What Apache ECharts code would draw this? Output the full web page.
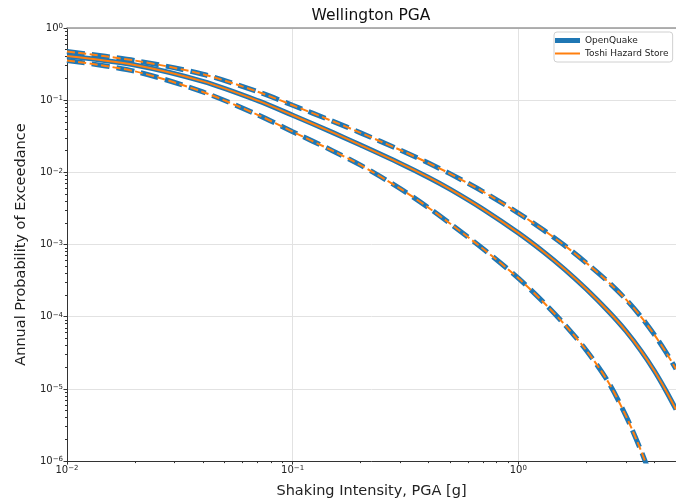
<!DOCTYPE html>
<html lang="en">
<head>
<meta charset="UTF-8">
<title>Wellington PGA</title>
<script src="https://cdn.jsdelivr.net/npm/echarts@6/dist/echarts.min.js"></script>
<style>
    html, body { margin: 0; padding: 0; background: #fff; }
    #chart { width: 676px; height: 504px; }
</style>
</head>
<body>
<div id="chart"></div>

<script>
    // shaking intensity levels (g) and annual probability of exceedance per curve
    const pga = [0.01, 0.02, 0.04, 0.07, 0.1, 0.15, 0.2, 0.3, 0.4, 0.5, 0.7, 1.0, 1.3, 1.6, 2.0, 2.5, 3.0, 3.5, 4.0, 4.5, 5.0];
    const meanPoe = [0.41, 0.307, 0.182, 0.0986, 0.0619, 0.0358, 0.0239, 0.0133, 0.00851, 0.00582, 0.00308, 0.00145, 0.000783, 0.000457, 0.000242, 0.00012, 6.34e-5, 3.37e-5, 1.8e-5, 9.6e-6, 5.2e-6];
    const upperPoe = [0.473, 0.354, 0.229, 0.131, 0.0851, 0.0513, 0.0353, 0.0204, 0.01345, 0.00953, 0.00538, 0.00273, 0.00157, 0.000977, 0.000558, 0.000305, 0.000174, 9.98e-5, 5.69e-5, 3.27e-5, 1.89e-5];
    const lowerPoe = [0.355, 0.251, 0.13, 0.0627, 0.0366, 0.02, 0.0126, 0.00594, 0.00324, 0.00194, 0.000867, 0.000343, 0.000156, 7.87e-5, 3.44e-5, 1.26e-5, 4.23e-6, 1.39e-6, 4.66e-7, null, null];

    const xMajor = [0.01, 0.1, 1];
    const yMajor = [1e-6, 1e-5, 1e-4, 1e-3, 1e-2, 1e-1, 1];

    const BLUE = '#1f77b4';
    const ORANGE = '#ff7f0e';
    const FONT = 'DejaVu Sans';
    const TEXT = '#222';

    // minor log ticks 2..9 in each decade
    function minorTicks(lo, hi, max) {
        const out = [];
        for (let e = lo; e <= hi; e++) {
            for (let m = 2; m <= 9; m++) {
                const v = m * Math.pow(10, e);
                if (v <= max) out.push(+v.toPrecision(3));
            }
        }
        return out;
    }
    const xMinor = minorTicks(-2, 0, 5);
    const yMinor = minorTicks(-6, -1, 1);

    function powLabel(v) {
        const e = Math.round(Math.log10(v));
        const exp = e < 0 ? '\u2212' + (-e) : String(e);
        return '{b|10}{s|' + exp + '}';
    }
    const rich = {
        b: { fontFamily: FONT, fontSize: 10, color: TEXT, lineHeight: 10, padding: [4, 0, 4, 0] },
        s: { fontFamily: FONT, fontSize: 7, color: TEXT, lineHeight: 9, verticalAlign: 'top' }
    };

    function pairs(ys) {
        return pga.map((x, i) => [x, ys[i]]);
    }

    function curve(name, ys, color, width, dash) {
        return {
            name: name,
            type: 'line',
            data: pairs(ys),
            symbol: 'none',
            smooth: 0.3,
            clip: true,
            lineStyle: { color: color, width: width, type: dash || 'solid' },
            itemStyle: { color: color },
            emphasis: { disabled: true }
        };
    }

    const chart = echarts.init(document.getElementById('chart'), null, { renderer: 'canvas' });

    const option = {
        animation: false,
        backgroundColor: '#fff',
        title: {
            text: 'Wellington PGA',
            left: 371,
            top: 8,
            textAlign: 'center',
            padding: 0,
            textStyle: { fontFamily: FONT, fontSize: 15.5, fontWeight: 'normal', color: '#111' }
        },
        legend: {
            left: 554,
            top: 32,
            orient: 'vertical',
            padding: [4, 4, 4, 1],
            itemGap: 4,
            itemWidth: 25,
            itemHeight: 10,
            borderColor: '#d0d0d0',
            borderWidth: 1,
            borderRadius: 3,
            itemStyle: { borderWidth: 0 },
            textStyle: { fontFamily: FONT, fontSize: 9, color: TEXT },
            data: [
                { name: 'OpenQuake', icon: 'path://M0,0H25V5H0Z', itemStyle: { color: BLUE, borderWidth: 0 } },
                { name: 'Toshi Hazard Store', icon: 'path://M0,0H25V2H0Z', itemStyle: { color: ORANGE, borderWidth: 0 } }
            ]
        },
        grid: { left: 67, right: 0, top: 28, bottom: 42 },
        xAxis: [
            {
                type: 'log',
                logBase: 10,
                min: 0.01,
                max: 5,
                position: 'bottom',
                name: 'Shaking Intensity, PGA [g]',
                nameLocation: 'middle',
                nameGap: 20,
                nameTextStyle: { fontFamily: FONT, fontSize: 14.5, color: TEXT },
                axisLine: { lineStyle: { color: '#333', width: 1 } },
                axisTick: { customValues: xMajor, length: 3.5, lineStyle: { color: '#333' } },
                axisLabel: { customValues: xMajor, margin: 4, formatter: powLabel, rich: rich },
                splitLine: { show: true, lineStyle: { color: '#e2e2e2', width: 1 } }
            },
            {
                type: 'log',
                logBase: 10,
                min: 0.01,
                max: 5,
                position: 'bottom',
                axisLine: { show: false },
                axisTick: { customValues: xMinor, length: 2, lineStyle: { color: '#333' } },
                axisLabel: { show: false },
                splitLine: { show: false }
            },
            {
                type: 'log',
                logBase: 10,
                min: 0.01,
                max: 5,
                position: 'top',
                axisLine: { lineStyle: { color: '#999', width: 1.5 } },
                axisTick: { show: false },
                axisLabel: { show: false },
                splitLine: { show: false }
            }
        ],
        yAxis: [
            {
                type: 'log',
                logBase: 10,
                min: 1e-6,
                max: 1,
                position: 'left',
                name: 'Annual Probability of Exceedance',
                nameLocation: 'middle',
                nameGap: 32,
                nameTextStyle: { fontFamily: FONT, fontSize: 14.5, color: TEXT },
                axisLine: { show: true, lineStyle: { color: '#333', width: 1 } },
                axisTick: { show: true, customValues: yMajor, length: 3.5, lineStyle: { color: '#333' } },
                axisLabel: { customValues: yMajor, margin: 4, formatter: powLabel, rich: rich },
                splitLine: { show: true, lineStyle: { color: '#e2e2e2', width: 1 } }
            },
            {
                type: 'log',
                logBase: 10,
                min: 1e-6,
                max: 1,
                position: 'left',
                axisLine: { show: false },
                axisTick: { show: true, customValues: yMinor, length: 2, lineStyle: { color: '#333' } },
                axisLabel: { show: false },
                splitLine: { show: false }
            }
        ],
        series: [
            curve('OpenQuake', upperPoe, BLUE, 5, [18, 7]),
            curve('OpenQuake', lowerPoe, BLUE, 5, [18, 7]),
            curve('OpenQuake', meanPoe, BLUE, 5),
            curve('Toshi Hazard Store', upperPoe, ORANGE, 2, [8, 3.5]),
            curve('Toshi Hazard Store', lowerPoe, ORANGE, 2, [8, 3.5]),
            curve('Toshi Hazard Store', meanPoe, ORANGE, 2)
        ]
    };

    chart.setOption(option);
</script>
</body>
</html>
